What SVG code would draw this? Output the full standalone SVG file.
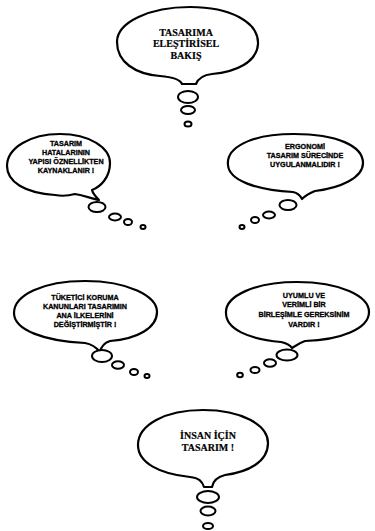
<svg xmlns="http://www.w3.org/2000/svg" width="375" height="531" viewBox="0 0 375 531">
<style>
.b{fill:#fff;stroke:#000;stroke-width:2.2;stroke-linejoin:round}
.c{fill:#fff;stroke:#000;stroke-width:2}
.t{font-family:"Liberation Sans",Arial,sans-serif;font-weight:bold;font-size:7.2px;text-anchor:middle;fill:#000;stroke:#000;stroke-width:0.3}
.tl{font-family:"Liberation Serif","Times New Roman",serif;font-weight:bold;font-size:10px;text-anchor:middle;fill:#000;stroke:#000;stroke-width:0.2}
</style>
<rect width="375" height="531" fill="#fff"/>
<g id="n1">
<path class="b" d="M117 42 C117 22 150 7 190 7 C230 7 259 22 258 44 C257 62 236 72 212 74 C203 75 198 79 196 84 L182 84 C180 79 172 77 160 76 C135 74 117 62 117 42 Z"/>
<text class="tl" x="186" y="36">TASARIMA</text>
<text class="tl" x="186" y="47">ELEŞTİRİSEL</text>
<text class="tl" x="186" y="59">BAKIŞ</text>
</g>
<g id="n2">
<path class="b" d="M7 166 C7 148 30 134 60 134 C90 134 110 148 110 163 C110 178 100 187 92 190 C93 194 96 197 99 200 C90 198 82 195 75 194 C68 196 60 196 55 195 C25 193 7 182 7 166 Z"/>
<text class="t" x="66" y="146">TASARIM</text>
<text class="t" x="66" y="155">HATALARININ</text>
<text class="t" x="66" y="164">YAPISI ÖZNELLİKTEN</text>
<text class="t" x="66" y="173">KAYNAKLANIR !</text>
</g>
<g id="n3">
<path class="b" d="M228 165 C226 148 250 134 294 134 C337 134 363 146 363 163 C363 178 340 188 315 191 C310 193 306 195 302 199 C300 195 298 193 293 192 C255 190 229 180 228 165 Z"/>
<text class="t" x="305" y="149">ERGONOMİ</text>
<text class="t" x="305" y="158">TASARIM SÜRECİNDE</text>
<text class="t" x="305" y="167">UYGULANMALIDIR !</text>
</g>
<g id="n4">
<path class="b" d="M14 313 C14 295 43 281 85 281 C128 281 157 296 157 312 C157 328 137 339 110 341 C104 343 101 347 100 352 C96 347 91 344 85 343 C44 341 14 330 14 313 Z"/>
<text class="t" x="85" y="300">TÜKETİCİ KORUMA</text>
<text class="t" x="85" y="309">KANUNLARI TASARIMIN</text>
<text class="t" x="85" y="318">ANA İLKELERİNİ</text>
<text class="t" x="85" y="327">DEĞİŞTİRMİŞTİR !</text>
</g>
<g id="n5">
<path class="b" d="M226 313 C225 296 255 282 297 282 C340 282 369 296 369 312 C369 329 340 340 305 341 C299 343 295 346 292 348 C290 345 286 343 281 342 C248 339 226 329 226 313 Z"/>
<text class="t" x="304" y="298">UYUMLU VE</text>
<text class="t" x="304" y="307">VERİMLİ BİR</text>
<text class="t" x="304" y="317">BİRLEŞİMLE GEREKSİNİM</text>
<text class="t" x="304" y="327">VARDIR !</text>
</g>
<g id="n6">
<path class="b" d="M138 445 C138 425 165 410 203 410 C242 410 268 425 268 443 C268 462 248 472 225 475 C217 477 213 481 212 487 L204 487 C202 481 199 478 190 477 C160 474 138 463 138 445 Z"/>
<text class="tl" font-size="9" x="208" y="439">İNSAN İÇİN</text>
<text class="tl" font-size="9" x="208" y="451">TASARIM !</text>
</g>
<g id="connectors">
<ellipse class="c" cx="188" cy="97" rx="10" ry="6"/>
<ellipse class="c" cx="188" cy="110" rx="7" ry="4"/>
<ellipse class="c" cx="188" cy="124" rx="3.5" ry="2.5"/>
<ellipse class="c" cx="97" cy="207" rx="8.5" ry="5"/>
<ellipse class="c" cx="115" cy="217" rx="6" ry="3.5"/>
<ellipse class="c" cx="128" cy="222" rx="4" ry="3"/>
<ellipse class="c" cx="143" cy="227" rx="2.5" ry="2"/>
<ellipse class="c" cx="288" cy="205" rx="8.5" ry="5"/>
<ellipse class="c" cx="269" cy="215" rx="6" ry="3.5"/>
<ellipse class="c" cx="255" cy="220" rx="4" ry="3"/>
<ellipse class="c" cx="242" cy="227" rx="2.5" ry="2"/>
<ellipse class="c" cx="102" cy="356" rx="10" ry="6"/>
<ellipse class="c" cx="118" cy="365" rx="6" ry="3.8"/>
<ellipse class="c" cx="134" cy="372" rx="4" ry="3"/>
<ellipse class="c" cx="147" cy="376" rx="2.5" ry="2"/>
<ellipse class="c" cx="287" cy="355" rx="10.5" ry="5.5"/>
<ellipse class="c" cx="270" cy="363" rx="6" ry="3.8"/>
<ellipse class="c" cx="255" cy="370" rx="4.5" ry="3"/>
<ellipse class="c" cx="240" cy="375" rx="2.8" ry="2.2"/>
<ellipse class="c" cx="208" cy="497" rx="11" ry="6"/>
<ellipse class="c" cx="208" cy="511" rx="7.5" ry="4.5"/>
<ellipse class="c" cx="208" cy="526" rx="5" ry="3"/>
</g>
</svg>
